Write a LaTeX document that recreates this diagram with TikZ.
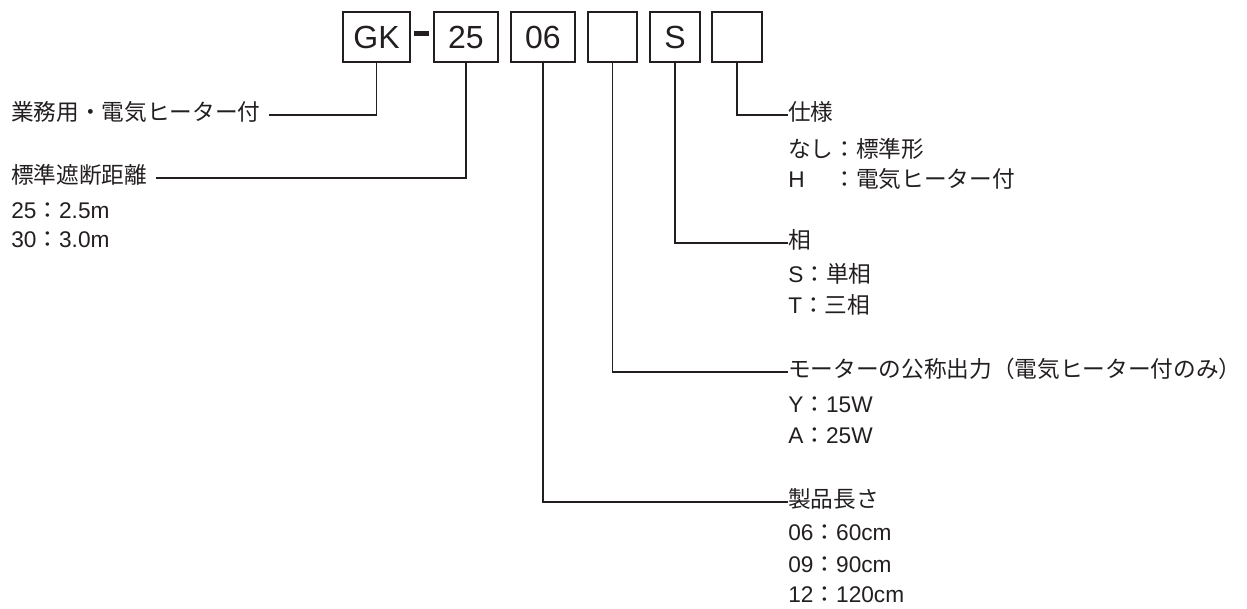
\documentclass[tikz,border=0pt]{standalone}
\usepackage{fontspec}
\setmainfont{Liberation Sans}
\newfontfamily\jpfont{Noto Sans CJK JP}
\newcommand\la[1]{{\rmfamily #1}}
\definecolor{ink}{HTML}{231F20}

\begin{document}
\begin{tikzpicture}[x=0.75pt,y=-0.75pt,
    code/.style={draw=ink, line width=1.3pt, minimum height=37.5pt, inner sep=0pt, text=ink, font=\fontsize{24}{24}\selectfont},
    lbl/.style={anchor=west, inner sep=0pt, text height=0.76em, text depth=0pt, text=ink, font=\jpfont\fontsize{17}{20}\selectfont},
    wire/.style={draw=ink, line width=1.3pt}]
  \useasboundingbox (0,0) rectangle (1247,609);

  % code boxes
  \node (gk) at (376.5,37) [code, minimum width=50.25pt] {GK};
  \node (dist) at (466,37) [code, minimum width=48pt] {25};
  \node (len) at (543,37) [code, minimum width=48pt] {06};
  \node (mot) at (612.5,37) [code, minimum width=36.75pt] {};
  \node (ph) at (675,37) [code, minimum width=37.5pt] {S};
  \node (spec) at (737,37) [code, minimum width=37.5pt] {};
  \draw[ink, line width=4pt] ([xshift=2.25pt,yshift=2.8pt]gk.east) -- ([xshift=-3pt,yshift=2.8pt]dist.west);

  % left labels
  \node (gkL) at (11,115) [lbl] {業務用・電気ヒーター付};
  \node (distL) at (11,178) [lbl] {標準遮断距離};
  \node (distA) at (11,213) [lbl] {\la{25}：\la{2.5m}};
  \node (distB) at (11,242) [lbl] {\la{30}：\la{3.0m}};

  % right labels
  \node (specL) at (788,115) [lbl] {仕様};
  \node (specA) at (788,152) [lbl] {なし：標準形};
  \node (specB) at (788,182) [lbl] {\makebox[2em][l]{\la{H}}：電気ヒーター付};
  \node (phL) at (788,243) [lbl] {相};
  \node (phA) at (788,277) [lbl] {\la{S}：単相};
  \node (phB) at (788,308) [lbl] {\la{T}：三相};
  \node (motL) at (788,372) [lbl] {モーターの公称出力（電気ヒーター付のみ）};
  \node (motA) at (788,407) [lbl] {\la{Y}：\la{15W}};
  \node (motB) at (788,438) [lbl] {\la{A}：\la{25W}};
  \node (lenL) at (788,502) [lbl] {製品長さ};
  \node (lenA) at (788,535) [lbl] {\la{06}：\la{60cm}};
  \node (lenB) at (788,567) [lbl] {\la{09}：\la{90cm}};
  \node (lenC) at (788,597) [lbl] {\la{12}：\la{120cm}};

  % leaders
  \draw[wire] (gk.south) |- ([xshift=6pt]gkL.east);
  \draw[wire] (dist.south) |- ([xshift=6pt]distL.east);
  \draw[wire] (spec.south) |- (specL.west);
  \draw[wire] (ph.south) |- (phL.west);
  \draw[wire] (mot.south) |- (motL.west);
  \draw[wire] (len.south) |- (lenL.west);
\end{tikzpicture}
\end{document}
